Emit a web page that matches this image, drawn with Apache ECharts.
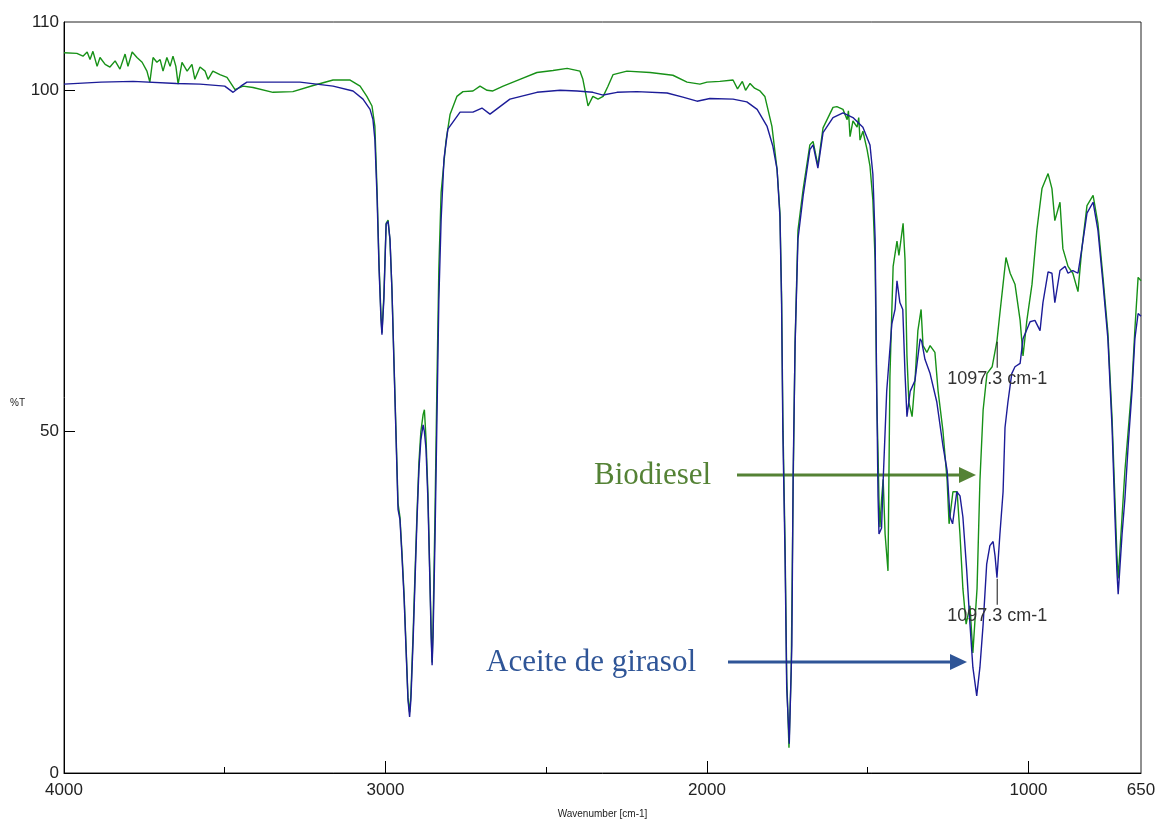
<!DOCTYPE html>
<html>
<head>
<meta charset="utf-8">
<script src="https://cdn.jsdelivr.net/npm/echarts@6/dist/echarts.min.js"></script>
<style>
html,body{margin:0;padding:0;background:#fff;overflow:hidden;}
#chart{width:1156px;height:819px;}
</style>
</head>
<body>
<div id="chart"></div>
<script>
// ---- Data (wavenumber cm-1, %T) ----
const yTickLabels = [0, 50, 100, 110];
const xTickLabels = [4000, 3000, 2000, 1000, 650];
const xMajorTicks = [3000, 2000, 1000];
const xMinorTicks = [3500, 2500, 1500];
const markerWn = 1097.3;
const markerText = '1097.3 cm-1';

const biodiesel = [
  [4000,105.5],[3960,105.4],[3941,105.0],[3928,105.6],[3919,104.5],[3910,105.7],[3897,103.5],[3888,104.8],
  [3872,103.8],[3857,103.4],[3841,104.3],[3826,103.1],[3810,105.3],[3801,103.5],[3788,105.6],[3773,104.8],
  [3757,104.1],[3742,102.8],[3733,101.2],[3723,104.8],[3711,104.1],[3701,104.5],[3692,102.8],[3680,104.8],
  [3670,103.5],[3661,105.0],[3652,103.5],[3645,100.9],[3633,104.1],[3617,102.8],[3602,103.8],[3593,101.6],
  [3577,103.4],[3561,102.8],[3552,101.6],[3537,102.8],[3515,102.3],[3493,101.9],[3468,100.1],[3443,100.6],
  [3412,100.4],[3350,99.7],[3288,99.8],[3225,100.7],[3163,101.5],[3110,101.5],[3079,100.6],[3058,99.1],
  [3042,97.7],[3033,94.7],[3026,85.0],[3020,74.5],[3014,67.0],[3011,64.5],[3005,70.0],[2998,80.5],
  [2992,81.0],[2986,78.0],[2980,71.0],[2974,61.0],[2967,49.5],[2961,39.5],[2955,37.5],[2949,32.5],
  [2942,26.0],[2936,18.5],[2930,11.0],[2925,8.9],[2921,11.5],[2914,20.5],[2908,29.5],[2902,38.0],
  [2896,45.5],[2890,50.0],[2883,52.5],[2879,53.2],[2874,49.0],[2868,41.0],[2862,29.0],[2858,21.0],
  [2855,16.2],[2852,21.5],[2846,38.0],[2840,57.0],[2834,74.0],[2827,85.0],[2812,92.5],[2799,96.5],
  [2778,99.1],[2759,99.8],[2728,99.9],[2706,100.6],[2684,100.0],[2666,99.9],[2634,100.6],[2582,101.6],
  [2529,102.6],[2479,102.9],[2435,103.2],[2395,102.8],[2386,101.6],[2370,97.7],[2355,99.1],[2339,98.7],
  [2323,99.1],[2308,100.6],[2292,102.3],[2249,102.8],[2177,102.6],[2106,102.2],[2062,101.2],[2022,100.9],
  [2000,101.2],[1960,101.3],[1919,101.5],[1905,100.2],[1890,101.3],[1880,100.0],[1866,101.0],[1852,100.3],
  [1835,99.9],[1820,99.1],[1798,94.7],[1782,88.4],[1773,82.0],[1768,70.0],[1764,52.0],[1757,33.0],
  [1752,14.0],[1745,3.7],[1738,15.0],[1732,42.0],[1726,63.0],[1717,79.5],[1701,85.5],[1680,92.0],
  [1670,92.5],[1655,89.0],[1639,94.5],[1608,97.5],[1596,97.6],[1577,97.2],[1564,95.7],[1560,97.0],
  [1555,93.2],[1546,95.5],[1533,94.6],[1528,96.0],[1524,92.7],[1515,94.0],[1502,91.3],[1493,88.9],
  [1484,83.9],[1477,75.0],[1472,55.0],[1468,47.0],[1465,40.0],[1462,36.0],[1457,40.0],[1452,43.0],
  [1446,35.0],[1441,32.0],[1437,29.6],[1431,58.0],[1421,74.2],[1409,77.9],[1403,75.8],[1390,80.5],
  [1384,75.2],[1378,61.1],[1372,54.3],[1362,52.2],[1353,57.5],[1344,64.8],[1334,67.9],[1328,62.6],
  [1316,61.6],[1306,62.6],[1291,61.6],[1281,55.9],[1266,50.1],[1253,42.8],[1247,36.5],[1235,41.2],
  [1222,41.2],[1213,34.9],[1204,27.0],[1194,21.8],[1182,24.5],[1173,17.6],[1160,27.0],[1151,42.8],
  [1141,53.2],[1129,58.5],[1113,59.5],[1098,63.3],[1089,67.3],[1079,71.6],[1070,75.5],[1057,73.2],
  [1042,71.6],[1026,66.3],[1017,61.1],[1005,66.3],[989,71.6],[974,79.5],[958,85.6],[939,87.8],
  [927,85.6],[918,80.9],[902,83.6],[893,76.8],[877,74.2],[862,73.2],[846,70.5],[834,76.8],
  [818,83.1],[799,84.6],[784,80.5],[768,72.5],[753,64.5],[740,52.0],[731,40.0],[725,32.0],
  [721,28.5],[709,37.5],[700,44.3],[690,50.0],[678,57.0],[669,65.0],[659,72.6],[650,72.1]
];

const aceite = [
  [4000,100.9],[3885,101.2],[3785,101.3],[3650,101.0],[3577,100.9],[3500,100.6],[3474,99.7],[3450,100.6],
  [3431,101.2],[3266,101.2],[3163,100.6],[3101,99.9],[3070,98.7],[3048,97.2],[3039,95.7],[3033,92.8],
  [3026,84.0],[3020,73.8],[3014,66.4],[3011,64.2],[3005,69.4],[2998,80.4],[2992,80.8],[2986,78.2],
  [2980,70.8],[2974,60.6],[2967,48.8],[2961,38.6],[2955,37.1],[2949,32.0],[2942,25.4],[2936,18.0],
  [2930,10.7],[2925,8.2],[2921,10.7],[2914,19.5],[2908,28.3],[2902,37.1],[2896,44.4],[2890,48.8],
  [2883,51.0],[2879,50.0],[2874,47.5],[2868,40.0],[2862,28.3],[2858,20.0],[2855,15.8],[2852,20.0],
  [2846,34.2],[2840,51.8],[2834,69.4],[2827,81.0],[2818,90.0],[2806,94.3],[2768,96.8],[2728,96.8],
  [2700,97.4],[2675,96.5],[2613,98.7],[2529,99.7],[2457,100.0],[2404,99.9],[2355,99.7],[2323,99.3],
  [2280,99.7],[2218,99.8],[2124,99.6],[2075,99.0],[2031,98.4],[1991,98.8],[1919,98.7],[1876,98.3],
  [1844,97.2],[1813,94.7],[1795,91.8],[1782,88.4],[1773,81.4],[1768,68.8],[1764,50.0],[1757,31.2],
  [1752,12.5],[1744,4.3],[1736,18.8],[1732,43.7],[1726,62.6],[1717,78.2],[1701,84.5],[1680,91.3],
  [1670,92.0],[1655,88.6],[1639,93.8],[1608,96.0],[1577,96.7],[1546,96.0],[1515,94.6],[1493,92.0],
  [1484,87.7],[1477,78.2],[1472,56.3],[1468,40.6],[1465,35.0],[1457,35.9],[1452,42.8],[1441,55.9],
  [1425,65.8],[1415,67.9],[1409,72.1],[1400,68.9],[1391,67.9],[1384,58.5],[1378,52.2],[1368,55.9],
  [1353,57.5],[1337,63.6],[1332,63.2],[1322,60.6],[1306,58.5],[1285,54.3],[1266,47.9],[1253,44.3],
  [1244,37.5],[1236,36.5],[1223,41.2],[1213,40.6],[1204,37.5],[1192,29.6],[1182,21.8],[1173,15.5],
  [1161,11.3],[1151,15.5],[1141,21.8],[1130,30.6],[1120,33.3],[1110,33.9],[1104,31.8],[1098,28.6],
  [1089,34.9],[1079,41.2],[1073,50.6],[1064,54.3],[1052,58.5],[1042,59.5],[1026,60.0],[1017,63.6],
  [995,66.1],[980,66.3],[964,64.8],[955,68.9],[939,73.4],[927,73.2],[918,68.9],[902,73.6],
  [886,74.2],[877,73.2],[862,73.6],[846,73.2],[834,76.8],[818,82.0],[799,83.6],[784,79.5],
  [768,71.6],[753,63.6],[740,50.6],[731,37.5],[725,29.6],[721,26.2],[709,34.9],[700,40.2],
  [690,47.9],[678,55.9],[669,63.6],[659,67.3],[650,66.9]
];
const biodieselMarkerT = 63.3;
const aceiteMarkerT = 28.6;

// ---- Chart ----
const chart = echarts.init(document.getElementById('chart'));
const axisFont = "'Liberation Sans', Arial, sans-serif";
const serif = "'Liberation Serif', 'Times New Roman', serif";
const plain = v => String(v);

function marker(t) {
  return {
    symbol: 'rect',
    symbolSize: [1, 26],
    symbolOffset: [0, 14],
    itemStyle: { color: '#111' },
    label: {
      show: true, position: 'bottom', distance: 2,
      formatter: markerText, color: '#333', fontSize: 18, fontFamily: axisFont
    },
    data: [{ coord: [markerWn, t] }],
    animation: false
  };
}

const option = {
  animation: false,
  backgroundColor: '#fff',
  grid: {
    left: 64, right: 15, top: 22, bottom: 46,
    containLabel: false, outerBoundsMode: 'none',
    show: true, borderColor: '#222', borderWidth: 1
  },
  xAxis: [
    {
      type: 'value', inverse: true, min: 650, max: 4000,
      name: 'Wavenumber [cm-1]', nameLocation: 'middle', nameGap: 36,
      nameTextStyle: { fontSize: 10, color: '#222', fontFamily: axisFont },
      axisLine: { show: true, lineStyle: { color: '#000', width: 1 } },
      axisTick: { show: true, inside: true, length: 12, customValues: xMajorTicks, lineStyle: { color: '#000' } },
      axisLabel: { customValues: xTickLabels, formatter: plain, fontSize: 17, color: '#222', fontFamily: axisFont, margin: 9 },
      splitLine: { show: false }
    },
    {
      type: 'value', inverse: true, min: 650, max: 4000, position: 'bottom',
      axisLine: { show: false },
      axisTick: { show: true, inside: true, length: 6, customValues: xMinorTicks, lineStyle: { color: '#000' } },
      axisLabel: { show: false },
      splitLine: { show: false }
    }
  ],
  yAxis: {
    type: 'value', min: 0, max: 110, interval: 10,
    axisLine: { show: true, lineStyle: { color: '#000', width: 1 } },
    axisTick: { show: true, inside: true, length: 11, customValues: [50, 100], lineStyle: { color: '#000' } },
    axisLabel: { customValues: yTickLabels, formatter: plain, fontSize: 17, color: '#222', fontFamily: axisFont, margin: 5 },
    splitLine: { show: false }
  },
  graphic: [
    { type: 'text', left: 10, top: 398, style: { text: '%T', fontSize: 10, fill: '#222', fontFamily: axisFont } },
    { type: 'text', x: 594, y: 476, style: { text: 'Biodiesel', fontSize: 31, fill: '#548235', fontFamily: serif, textVerticalAlign: 'middle' } },
    { type: 'line', shape: { x1: 737, y1: 475, x2: 962, y2: 475 }, style: { stroke: '#548235', lineWidth: 3 } },
    { type: 'polygon', shape: { points: [[959, 467], [976, 475], [959, 483]] }, style: { fill: '#548235' } },
    { type: 'text', x: 486, y: 663, style: { text: 'Aceite de girasol', fontSize: 31, fill: '#2F5597', fontFamily: serif, textVerticalAlign: 'middle' } },
    { type: 'line', shape: { x1: 728, y1: 662, x2: 953, y2: 662 }, style: { stroke: '#2F5597', lineWidth: 3 } },
    { type: 'polygon', shape: { points: [[950, 654], [967, 662], [950, 670]] }, style: { fill: '#2F5597' } }
  ],
  series: [
    {
      name: 'Biodiesel', type: 'line', data: biodiesel, showSymbol: false, symbol: 'none',
      xAxisIndex: 0, yAxisIndex: 0,
      lineStyle: { color: '#179117', width: 1.4 }, z: 2,
      markPoint: marker(biodieselMarkerT)
    },
    {
      name: 'Aceite de girasol', type: 'line', data: aceite, showSymbol: false, symbol: 'none',
      xAxisIndex: 0, yAxisIndex: 0,
      lineStyle: { color: '#1C1C98', width: 1.4 }, z: 3,
      markPoint: marker(aceiteMarkerT)
    }
  ]
};
chart.setOption(option);
</script>
</body>
</html>
